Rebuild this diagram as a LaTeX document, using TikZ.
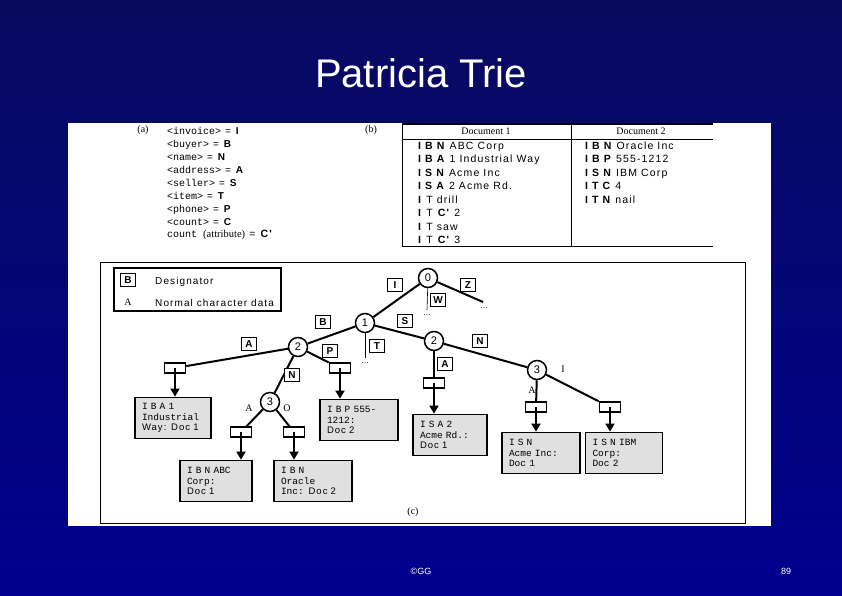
\documentclass[tikz,border=0pt]{standalone}
\usepackage{fontspec}
\setmainfont{Liberation Sans}
\setmonofont{Liberation Mono}
\newfontfamily\serfont{Liberation Serif}
\newfontfamily\widefont{Liberation Sans}[LetterSpace=11]
\usetikzlibrary{arrows.meta}
\definecolor{slidetop}{RGB}{8,10,95}
\definecolor{slidebot}{RGB}{0,0,142}
\tikzset{
  trienode/.style={circle,draw,line width=1.5pt,fill=white,minimum size=19pt,inner sep=0pt,font=\fontsize{11}{11}\selectfont},
  desig/.style={draw,line width=1.5pt,fill=white,inner sep=1.5pt,minimum width=15pt,minimum height=13pt,font=\fontsize{10}{10}\selectfont\bfseries},
  leaf/.style={draw,line width=1.5pt,fill=white,minimum width=21pt,minimum height=10pt,inner sep=0pt},
  docbox/.style={draw,line width=1.8pt,fill=black!12,align=left,inner xsep=7pt,inner ysep=3pt,minimum height=41pt,text width=#1,font=\ttfamily\fontsize{9.5}{10.5}\selectfont},
  trieedge/.style={line width=2pt},
  ptr/.style={line width=1.8pt,-{Triangle[width=9pt,length=8pt]}},
  plain/.style={font=\serfont\fontsize{10}{10}\selectfont},
  codeline/.style={anchor=base west,inner sep=0pt,font=\fontsize{10}{10}\selectfont},
  docline/.style={anchor=base west,inner sep=0pt,font=\widefont\fontsize{10.5}{10.5}\selectfont},
  keyline/.style={anchor=base west,inner sep=0pt,font=\widefont\fontsize{10}{10}\selectfont}
}
\begin{document}
\begin{tikzpicture}[x=1pt,y=-1pt]
    \useasboundingbox (0,0) rectangle (842,595);
    \shade[top color=slidetop,bottom color=slidebot] (0,0) rectangle (842,595);
    \node[white,font=\fontsize{40}{40}\selectfont] (title) at (421,73) {Patricia Trie};
    \fill[white] (68,123) rectangle (771,526);

    % (a) designators
    \node[plain] (lblA) at (143,130) {(a)};
    \node[codeline] (a1) at (167,134) {\ttfamily<invoice>\widefont\ = \textbf{I}};
    \node[codeline] (a2) at (167,147) {\ttfamily<buyer>\widefont\ = \textbf{B}};
    \node[codeline] (a3) at (167,160) {\ttfamily<name>\widefont\ = \textbf{N}};
    \node[codeline] (a4) at (167,173) {\ttfamily<address>\widefont\ = \textbf{A}};
    \node[codeline] (a5) at (167,186) {\ttfamily<seller>\widefont\ = \textbf{S}};
    \node[codeline] (a6) at (167,199) {\ttfamily<item>\widefont\ = \textbf{T}};
    \node[codeline] (a7) at (167,212) {\ttfamily<phone>\widefont\ = \textbf{P}};
    \node[codeline] (a8) at (167,225) {\ttfamily<count>\widefont\ = \textbf{C}};
    \node[codeline] (a9) at (167,237) {\ttfamily count \serfont\fontsize{10.5}{10.5}\selectfont(attribute)\widefont\ = \textbf{C'}};

    % (b) documents
    \node[plain] (lblB) at (371,130) {(b)};
    \draw[line width=1.6pt] (402,123.8) -- (713,123.8);
    \draw (402,139) -- (713,139);
    \draw (402,246) -- (713,246);
    \draw (402,123) -- (402,246);
    \draw (571,123) -- (571,246);
    \node[plain] (hd1) at (486,131) {Document 1};
    \node[plain] (hd2) at (641,131) {Document 2};
    \node[docline] (p1) at (418,149) {\textbf{I B N} ABC Corp};
    \node[docline] (p2) at (418,162) {\textbf{I B A} 1 Industrial Way};
    \node[docline] (p3) at (418,176) {\textbf{I S N} Acme Inc};
    \node[docline] (p4) at (418,189) {\textbf{I S A} 2 Acme Rd.};
    \node[docline] (p5) at (418,203) {\textbf{I} T drill};
    \node[docline] (p6) at (418,216) {\textbf{I} T \textbf{C'} 2};
    \node[docline] (p7) at (418,230) {\textbf{I} T saw};
    \node[docline] (p8) at (418,243) {\textbf{I} T \textbf{C'} 3};
    \node[docline] (q1) at (585,149) {\textbf{I B N} Oracle Inc};
    \node[docline] (q2) at (585,162) {\textbf{I B P} 555-1212};
    \node[docline] (q3) at (585,176) {\textbf{I S N} IBM Corp};
    \node[docline] (q4) at (585,189) {\textbf{I T C} 4};
    \node[docline] (q5) at (585,203) {\textbf{I T N} nail};

    % (c) trie
    \draw[semithick] (100,262) rectangle (745,523);
    \node[plain] (lblC) at (413,512) {(c)};
    \draw[line width=1.5pt] (114,268) rectangle (281,311);
    \node[desig] (keyB) at (128,280) {B};
    \node[keyline] (keyBt) at (155,284) {Designator};
    \node[plain] (keyA) at (128,302) {A};
    \node[keyline] (keyAt) at (155,306) {Normal character data};

    \node[trienode] (n0) at (428,278) {0};
    \node[trienode] (n1) at (365,323) {1};
    \node[trienode] (n2a) at (298,347) {2};
    \node[trienode] (n2b) at (434,341) {2};
    \node[trienode] (n3a) at (270,402) {3};
    \node[trienode] (n3b) at (537,370) {3};
    \coordinate (wEnd) at (427,310);
    \coordinate (zEnd) at (483,302);
    \coordinate (tEnd) at (365,358);

    \node[leaf] (lfBA) at (175,368) {};
    \node[leaf] (lfBP) at (340,368) {};
    \node[leaf] (lfBNA) at (241,432) {};
    \node[leaf] (lfBNO) at (294,432) {};
    \node[leaf] (lfSA) at (434,383) {};
    \node[leaf] (lfSNA) at (536,407) {};
    \node[leaf] (lfSNI) at (610,407) {};

    \draw[trieedge] (n0) -- (n1);
    \draw[trieedge] (n0) -- (zEnd);
    \draw[semithick] (n0) -- (wEnd);
    \draw[trieedge] (n1) -- (n2a);
    \draw[trieedge] (n1) -- (n2b);
    \draw[semithick] (n1) -- (tEnd);
    \draw[trieedge] (n2a) -- (lfBA);
    \draw[trieedge] (n2a) -- (lfBP);
    \draw[trieedge] (n2a) -- (n3a);
    \draw[trieedge] (n2b) -- (lfSA);
    \draw[trieedge] (n2b) -- (n3b);
    \draw[trieedge] (n3a) -- (lfBNA);
    \draw[trieedge] (n3a) -- (lfBNO);
    \draw[trieedge] (n3b) -- (lfSNA);
    \draw[trieedge] (n3b) -- (lfSNI);

    \node[font=\fontsize{8}{8}\selectfont] (wDots) at (427,315) {\dots};
    \node[font=\fontsize{8}{8}\selectfont] (zDots) at (484,308) {\dots};
    \node[font=\fontsize{8}{8}\selectfont] (tDots) at (365,363) {\dots};

    \node[desig] (eI) at (395,285) {I};
    \node[desig] (eW) at (438,300) {W};
    \node[desig] (eZ) at (468,285) {Z};
    \node[desig] (eB) at (323,322) {B};
    \node[desig] (eS) at (405,321) {S};
    \node[desig] (eT) at (377,346) {T};
    \node[desig] (eN) at (480,341) {N};
    \node[desig] (eA) at (249,344) {A};
    \node[desig] (eP) at (330,351) {P};
    \node[desig] (eN2) at (292,375) {N};
    \node[desig] (eA2) at (445,364) {A};
    \node[plain] (cA) at (249,408) {A};
    \node[plain] (cO) at (287,408) {O};
    \node[plain] (cA2) at (532,390) {A};
    \node[plain] (cI) at (563,369) {I};

    \node[docbox=62pt] (dBA) at (173,418) {I B A 1\\Industrial\\\widefont Way: Doc 1};
    \node[docbox=58pt] (dBNA) at (216,481) {I B N ABC\\Corp:\\\widefont Doc 1};
    \node[docbox=64pt] (dBNO) at (313,481) {I B N\\Oracle\\Inc: \widefont Doc 2};
    \node[docbox=64pt] (dBP) at (359,420) {I B P 555-\\1212:\\\widefont Doc 2};
    \node[docbox=60pt] (dSA) at (450,435) {I S A 2\\Acme Rd.:\\\widefont Doc 1};
    \node[docbox=64pt] (dSNA) at (541,453) {I S N\\Acme Inc:\\Doc 1};
    \node[docbox=63pt] (dSNI) at (624,453) {I S N IBM\\Corp:\\Doc 2};

    \draw[ptr] (lfBA.center) -- (lfBA.center |- dBA.north);
    \draw[ptr] (lfBP.center) -- (lfBP.center |- dBP.north);
    \draw[ptr] (lfBNA.center) -- (lfBNA.center |- dBNA.north);
    \draw[ptr] (lfBNO.center) -- (lfBNO.center |- dBNO.north);
    \draw[ptr] (lfSA.center) -- (lfSA.center |- dSA.north);
    \draw[ptr] (lfSNA.center) -- (lfSNA.center |- dSNA.north);
    \draw[ptr] (lfSNI.center) -- (lfSNI.center |- dSNI.north);

    \node[white,font=\fontsize{9}{9}\selectfont] (copy) at (421,571) {©GG};
    \node[white,font=\fontsize{9}{9}\selectfont] (pageno) at (786,571) {89};
\end{tikzpicture}
\end{document}
